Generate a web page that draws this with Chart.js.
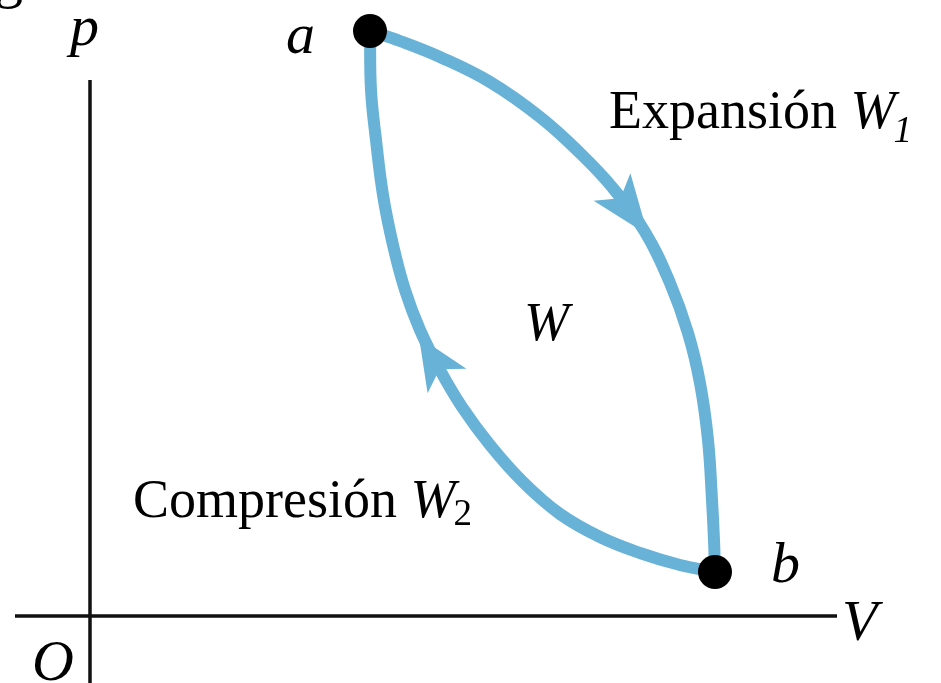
<!DOCTYPE html>
<html>
<head>
<meta charset="utf-8">
<script src="https://cdn.jsdelivr.net/npm/chart.js@4/dist/chart.umd.min.js"></script>
<style>
  html, body { margin: 0; padding: 0; background: #fff; }
  #wrap { width: 941px; height: 683px; }
</style>
</head>
<body>
<div id="wrap"><canvas id="pv" width="941" height="683"></canvas></div>
<script>
// p–V diagram: expansion a -> b (upper curve), compression b -> a (lower curve)

// expansion path a -> b
const expV = [2.80, 3.10, 3.50, 4.00, 4.50, 4.90, 5.22, 5.55, 5.80, 5.98, 6.10, 6.18, 6.22, 6.24, 6.25];
const expP = [5.85, 5.75, 5.59, 5.34, 4.99, 4.63, 4.29, 3.84, 3.33, 2.83, 2.33, 1.76, 1.16, 0.76, 0.44];

// compression path b -> a
const compV = [6.25, 5.90, 5.50, 5.10, 4.70, 4.33, 4.00, 3.72, 3.50, 3.30, 3.15, 3.03, 2.93, 2.86, 2.81, 2.80];
const compP = [0.44, 0.51, 0.63, 0.79, 1.02, 1.34, 1.71, 2.09, 2.46, 2.86, 3.26, 3.71, 4.21, 4.76, 5.26, 5.85];

// states a and b
const stateV = [2.80, 6.25];
const stateP = [5.85, 0.44];

// arrowheads: base (back of the head) and tip
const arrowBaseV = [5.22, 3.57];
const arrowBaseP = [4.29, 2.35];
const arrowTipV = [5.58, 3.29];
const arrowTipP = [3.81, 2.79];

const BLUE = "#68b2d8";
const SERIF = "'Liberation Serif', 'Times New Roman', serif";

const toXY = (vs, ps) => vs.map((v, i) => ({ x: v, y: ps[i] }));

function px(chart, v, p) {
  return [chart.scales.x.getPixelForValue(v), chart.scales.y.getPixelForValue(p)];
}

const diagramPlugin = {
  id: "diagram",
  beforeDatasetsDraw(chart) {
    const ctx = chart.ctx;
    const [ox, oy] = px(chart, 0, 0);
    ctx.save();
    ctx.strokeStyle = "#111";
    ctx.lineWidth = 3.5;
    ctx.beginPath();
    // p axis
    ctx.moveTo(ox, 80);
    ctx.lineTo(ox, chart.height);
    // V axis
    ctx.moveTo(15, oy);
    ctx.lineTo(837, oy);
    ctx.stroke();

    // arrowheads (under the state dots)
    ctx.fillStyle = BLUE;
    arrowBaseV.forEach((bv, i) => {
      const [bx, by] = px(chart, bv, arrowBaseP[i]);
      const [tx, ty] = px(chart, arrowTipV[i], arrowTipP[i]);
      const len = Math.hypot(tx - bx, ty - by);
      const dx = (tx - bx) / len, dy = (ty - by) / len;
      const nx = -dy, ny = dx;
      const half = 23;
      ctx.beginPath();
      ctx.moveTo(tx, ty);
      ctx.lineTo(bx + nx * half, by + ny * half);
      ctx.lineTo(bx + dx * 14, by + dy * 14);
      ctx.lineTo(bx - nx * half, by - ny * half);
      ctx.closePath();
      ctx.fill();
    });
    ctx.restore();
  },
  afterDatasetsDraw(chart) {
    const ctx = chart.ctx;
    ctx.save();
    ctx.fillStyle = "#000";
    ctx.textBaseline = "alphabetic";
    ctx.textAlign = "left";

    // cut-off line of text from the page above
    ctx.font = "58px " + SERIF;
    ctx.fillText("grama.", -6, -3);

    ctx.font = "italic 58px " + SERIF;
    ctx.fillText("p", 70, 45);
    ctx.fillText("a", 286, 53);
    ctx.fillText("b", 771, 582);
    ctx.fillText("V", 842, 640);
    ctx.fillText("O", 32, 680);
    ctx.font = "italic 54px " + SERIF;
    ctx.fillText("W", 524, 340);

    function label(txt, sub, x, y, subDrop, subItalic) {
      ctx.font = "54px " + SERIF;
      ctx.fillText(txt, x, y);
      let cx = x + ctx.measureText(txt).width;
      ctx.font = "italic 54px " + SERIF;
      ctx.fillText("W", cx, y);
      cx += ctx.measureText("W").width - 2;
      ctx.font = (subItalic ? "italic " : "") + "37px " + SERIF;
      ctx.fillText(sub, cx, y + subDrop);
    }
    label("Expansión ", "1", 609, 128, 14, true);
    label("Compresión ", "2", 133, 517, 8, false);

    ctx.restore();
  }
};

new Chart(document.getElementById("pv"), {
  type: "scatter",
  data: {
    datasets: [
      {
        label: "Estados",
        data: toXY(stateV, stateP),
        showLine: false,
        pointRadius: 17,
        pointBackgroundColor: "#000",
        pointBorderWidth: 0,
        order: 0
      },
      {
        label: "Expansión",
        data: toXY(expV, expP),
        showLine: true,
        borderColor: BLUE,
        borderWidth: 12,
        tension: 0.4,
        pointRadius: 0,
        borderCapStyle: "round",
        borderJoinStyle: "round",
        order: 1
      },
      {
        label: "Compresión",
        data: toXY(compV, compP),
        showLine: true,
        borderColor: BLUE,
        borderWidth: 12,
        tension: 0.4,
        pointRadius: 0,
        borderCapStyle: "round",
        borderJoinStyle: "round",
        order: 1
      }
    ]
  },
  options: {
    responsive: false,
    animation: false,
    events: [],
    layout: { padding: 0, autoPadding: false },
    plugins: {
      legend: { display: false },
      tooltip: { enabled: false }
    },
    scales: {
      x: { type: "linear", display: false, min: -0.90, max: 8.51 },
      y: { type: "linear", display: false, min: -0.67, max: 6.16 }
    }
  },
  plugins: [diagramPlugin]
});
</script>
</body>
</html>
